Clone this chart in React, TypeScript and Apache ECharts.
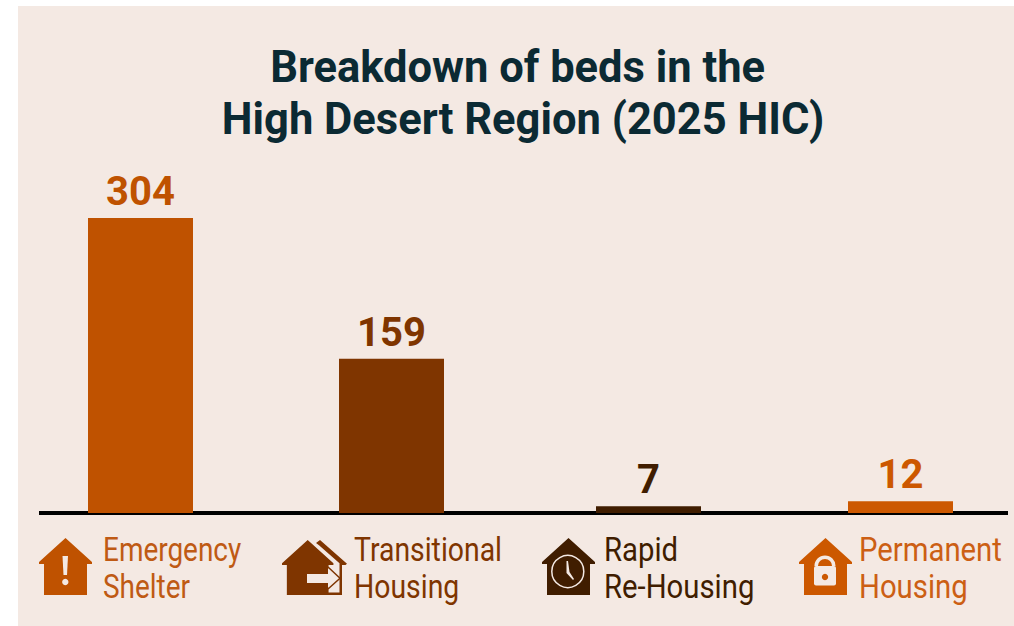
import React, { useEffect, useRef } from "react";
import * as echarts from "echarts";

const titleText = "Breakdown of beds in the \nHigh Desert Region (2025 HIC)";
const categories = ["Emergency\nShelter", "Transitional\nHousing", "Rapid\nRe-Housing", "Permanent\nHousing"];
const beds = [304, 159, 7, 12];
const barColors = ["#BF5200", "#7F3500", "#401D00", "#CC5800"];
const textColors = ["#BF5A14", "#7F3500", "#401D00", "#CC5F14"];
const BG = "#F4E9E3";

// Each bar has its own small grid so the uneven spacing of the original can be kept.
const grids = [
  { left: 39, width: 203 },
  { left: 242, width: 299 },
  { left: 489, width: 319 },
  { left: 793, width: 215 },
];
const labelX = [103, 354, 604, 859];
const labelScale = [0.822, 0.835, 0.862, 0.862];

const HOUSE = "M26.5 0 L53 24 L53 26 L48 26 L48 57 L5 57 L5 26 L0 26 L0 24 Z";
const BACK = "M12 0 L39 24.5 L37.5 26 L34 26 L34 57 L20 57 L20 54.5 L31.5 54.5 L31.5 24 L11 5.5 L8 3 Z";
echarts.graphic.registerShape("house", echarts.graphic.extendPath(HOUSE, {}));
echarts.graphic.registerShape("backHouse", echarts.graphic.extendPath(BACK, {}));

export default function App() {
  const ref = useRef<HTMLDivElement>(null);
  useEffect(() => {
    document.body.style.margin = "0";
    const chart = echarts.init(ref.current!, null, { renderer: "svg" });
    const c = barColors;
    const option: any = {
      animation: false,
      backgroundColor: "transparent",
      title: {
        text: titleText,
        left: 518,
        top: 36,
        textAlign: "center",
        textStyle: {
          fontFamily: "Roboto",
          fontWeight: "bold",
          fontSize: 43.5,
          lineHeight: 52,
          color: "#0B2A33",
        },
      },
      grid: grids.map((g) => ({ left: g.left, width: g.width, top: 218, height: 295 })),
      xAxis: grids.map((_, i) => ({
        type: "category",
        gridIndex: i,
        data: [categories[i]],
        axisLine: { show: true, lineStyle: { color: "#000000", width: 4, cap: "butt" } },
        axisTick: { show: false },
        axisLabel: { show: false },
        splitLine: { show: false },
      })),
      yAxis: grids.map((_, i) => ({
        type: "value",
        gridIndex: i,
        min: 0,
        max: 304,
        show: false,
      })),
      series: beds.map((v, i) => ({
        type: "bar",
        xAxisIndex: i,
        yAxisIndex: i,
        data: [v],
        barWidth: 105,
        itemStyle: { color: barColors[i] },
        label: {
          show: true,
          position: "top",
          distance: 6.5,
          fontFamily: "Roboto",
          fontWeight: "bold",
          fontSize: 40,
          color: barColors[i],
        },
      })),
      graphic: [
        ...categories.map((t, i) => ({
          type: "text",
          x: labelX[i],
          y: 531,
          scaleX: labelScale[i],
          style: {
            text: t,
            fontFamily: "Roboto",
            fontSize: 34,
            lineHeight: 37,
            fill: textColors[i],
            align: "left",
            verticalAlign: "top",
          },
        })),
        // Emergency shelter icon
        { type: "house", x: 39, y: 538, style: { fill: c[0] } },
        { type: "polygon", shape: { points: [[62.5, 556], [68, 556], [67, 575], [63.5, 575]] }, style: { fill: BG } },
        { type: "circle", shape: { cx: 65.3, cy: 582, r: 3.2 }, style: { fill: BG } },
        // Transitional housing icon
        { type: "backHouse", x: 308, y: 540, scaleY: 0.965, style: { fill: c[1] } },
        { type: "house", x: 282, y: 540, scaleX: 0.97, scaleY: 0.965, style: { fill: c[1] } },
        { type: "polygon", shape: { points: [[307, 574], [328, 574], [328, 568], [339, 578.3], [328, 588], [328, 583], [307, 583]] }, style: { fill: BG } },
        { type: "polyline", shape: { points: [[328, 567], [340, 578.3], [328, 589]] }, style: { stroke: c[1], lineWidth: 1.5, fill: "none" } },
        // Rapid re-housing icon
        { type: "house", x: 542, y: 538, style: { fill: c[2] } },
        { type: "circle", shape: { cx: 567.8, cy: 571.5, r: 16 }, style: { fill: "none", stroke: BG, lineWidth: 1.5 } },
        { type: "polygon", shape: { points: [[566.5, 561], [568, 561], [569.5, 572], [574, 579], [573, 580], [566.5, 573]] }, style: { fill: BG } },
        // Permanent housing icon
        { type: "house", x: 799, y: 538, style: { fill: c[3] } },
        { type: "arc", shape: { cx: 825, cy: 566, r: 8.8, startAngle: Math.PI, endAngle: 2 * Math.PI, clockwise: true }, style: { stroke: BG, lineWidth: 3.5, fill: "none" } },
        { type: "rect", shape: { x: 814, y: 566, width: 22, height: 19.5, r: 2 }, style: { fill: BG } },
        { type: "circle", shape: { cx: 825, cy: 577, r: 3.2 }, style: { fill: c[3] } },
      ],
    };
    chart.setOption(option);
    return () => chart.dispose();
  }, []);
  return (
    <div style={{ position: "absolute", left: 0, top: 0, width: 1014, height: 626, background: "#fff", overflow: "hidden" }}>
      <div style={{ position: "absolute", left: 18, top: 6, width: 996, height: 620, background: BG }} />
      <div ref={ref} style={{ position: "absolute", left: 0, top: 0, width: 1014, height: 626 }} />
    </div>
  );
}
